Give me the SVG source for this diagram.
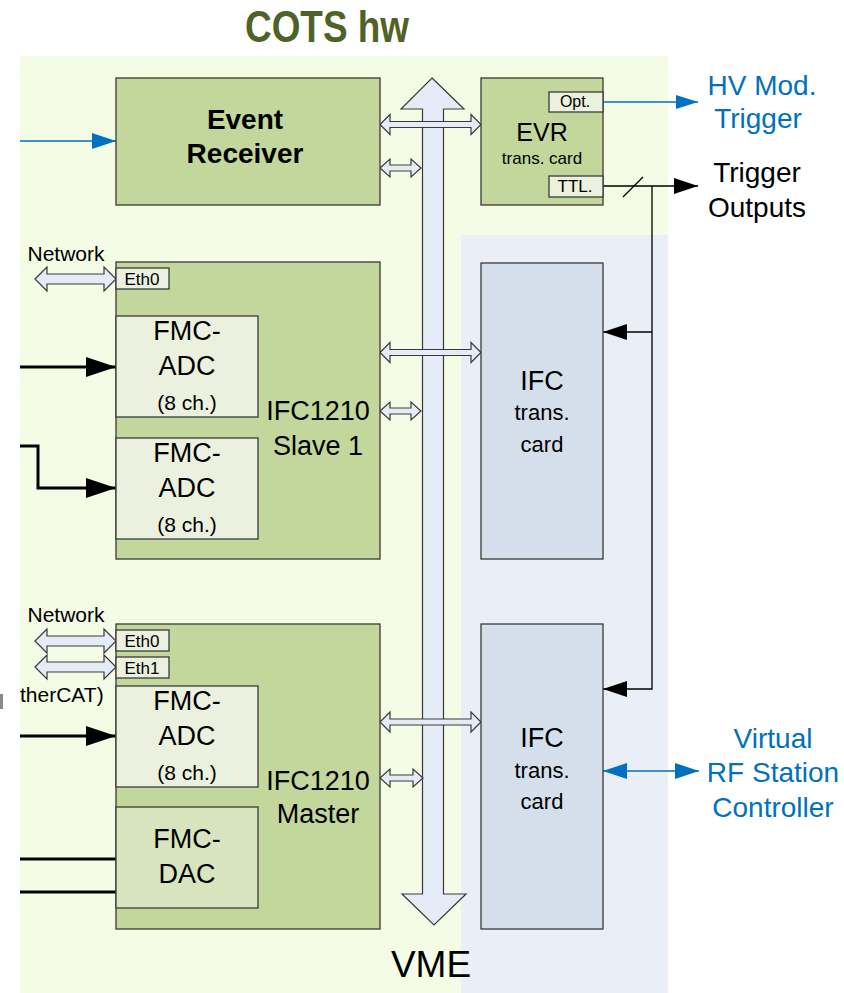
<svg xmlns="http://www.w3.org/2000/svg" width="844" height="993" viewBox="0 0 844 993">
<defs>
<style>
text{font-family:"Liberation Sans",Arial,sans-serif;fill:#000}
.box{fill:#c3d69b;stroke:#3a3a3a;stroke-width:1.3}
.adc{fill:#ebf1de;stroke:#3a3a3a;stroke-width:1.3}
.dac{fill:#d7e4bd;stroke:#3a3a3a;stroke-width:1.3}
.port{fill:#ebf1de;stroke:#3a3a3a;stroke-width:1.3}
.card{fill:#d5dfeb;stroke:#3a3a3a;stroke-width:1.3}
.bus{fill:#e6ecf7;stroke:#3a3a3a;stroke-width:1.2}
.big{font-size:27px}
.mid{font-size:22px}
.sm{font-size:17px}
.blue{fill:#0070c0}
.thin{stroke:#000;stroke-width:1.3;fill:none}
.thick{stroke:#000;stroke-width:3;fill:none}
.bl{stroke:#0070c0;stroke-width:1.3;fill:none}
</style>
<marker id="ab" viewBox="0 0 24 16" refX="24" refY="8" markerWidth="24" markerHeight="16" markerUnits="userSpaceOnUse" orient="auto-start-reverse"><path d="M0,0L24,8L0,16z" fill="#000"/></marker>
<marker id="abig" viewBox="0 0 30 20" refX="30" refY="10" markerWidth="30" markerHeight="20" markerUnits="userSpaceOnUse" orient="auto"><path d="M0,0L30,10L0,20z" fill="#000"/></marker>
<marker id="ablue" viewBox="0 0 22 14" refX="22" refY="7" markerWidth="22" markerHeight="14" markerUnits="userSpaceOnUse" orient="auto-start-reverse"><path d="M0,0L22,7L0,14z" fill="#0070c0"/></marker>
<marker id="abluebig" viewBox="0 0 24 16" refX="24" refY="8" markerWidth="24" markerHeight="16" markerUnits="userSpaceOnUse" orient="auto-start-reverse"><path d="M0,0L24,8L0,16z" fill="#0070c0"/></marker>
</defs>
<rect width="844" height="993" fill="#fff"/>
<rect x="20" y="56" width="648" height="937" fill="#f5fce6"/>
<rect x="461" y="235" width="207" height="758" fill="#e9eef7"/>
<rect x="0" y="694" width="3" height="15" fill="#8a8a8a"/>

<text x="327" y="42" font-size="44" font-weight="bold" style="fill:#4f6228" text-anchor="middle" textLength="164" lengthAdjust="spacingAndGlyphs">COTS hw</text>

<g id="vme-bus">
<path class="bus" d="M432,78L464,109L443.5,109L443.5,894L466,894L434,925L402,894L422.5,894L422.5,109L401,109Z"/>
<text x="431" y="977" font-size="37" text-anchor="middle">VME</text>
</g>

<g id="connectors">
<!-- bus double arrows -->
<path class="bus" d="M380,124.5l10,-10v7h81v-7l10,10l-10,10v-7h-81v7z"/>
<path class="bus" d="M380,168l10,-9v6h21v-6l10,9l-10,9v-6h-21v6z"/>
<path class="bus" d="M380,352.5l10,-10v7h81v-7l10,10l-10,10v-7h-81v7z"/>
<path class="bus" d="M380,411l10,-9v6h21v-6l10,9l-10,9v-6h-21v6z"/>
<path class="bus" d="M380,722l10,-10v7h81v-7l10,10l-10,10v-7h-81v7z"/>
<path class="bus" d="M380,778l10,-9v6h23v-6l10,9l-10,9v-6h-23v6z"/>
<!-- network double arrows -->
<path class="bus" d="M35,279l12,-12v7h57v-7l12,12l-12,12v-7h-57v7z"/>
<path class="bus" d="M35,641l12,-12v7h57v-7l12,12l-12,12v-7h-57v7z"/>
<path class="bus" d="M35,667l12,-12v7h57v-7l12,12l-12,12v-7h-57v7z"/>
<!-- event receiver input -->
<line class="bl" x1="20" y1="141" x2="116" y2="141" marker-end="url(#abluebig)"/>
<!-- ADC inputs -->
<line class="thick" x1="20" y1="367" x2="116" y2="367" marker-end="url(#abig)"/>
<path class="thick" d="M20,446H38V488H116" marker-end="url(#abig)"/>
<line class="thick" x1="20" y1="736" x2="116" y2="736" marker-end="url(#abig)"/>
<line class="thick" x1="20" y1="859" x2="117" y2="859"/>
<line class="thick" x1="20" y1="892" x2="117" y2="892"/>
<!-- EVR outputs -->
<line class="bl" x1="603" y1="102" x2="698" y2="102" marker-end="url(#ablue)"/>
<line class="thin" x1="603" y1="186" x2="698" y2="186" marker-end="url(#ab)"/>
<line class="thin" x1="623" y1="197" x2="643" y2="177"/>
<path class="thin" d="M652,186V689H603" marker-end="url(#ab)"/>
<line class="thin" x1="652" y1="332" x2="603" y2="332" marker-end="url(#ab)"/>
<!-- virtual RF station -->
<line class="bl" x1="603" y1="771" x2="699" y2="771" marker-start="url(#abluebig)" marker-end="url(#abluebig)"/>
</g>

<g id="event-receiver">
<rect class="box" x="116" y="78" width="264" height="127"/>
<text x="245" y="129" font-size="28" font-weight="bold" text-anchor="middle">Event</text>
<text x="245" y="163" font-size="28" font-weight="bold" text-anchor="middle">Receiver</text>
</g>

<g id="evr-card">
<rect class="box" x="481" y="78" width="122" height="127"/>
<rect class="port" x="549" y="92" width="54" height="20"/>
<text x="575" y="107" font-size="16" text-anchor="middle">Opt.</text>
<rect class="port" x="549" y="176" width="54" height="21"/>
<text x="575" y="192" class="sm" text-anchor="middle">TTL.</text>
<text x="542" y="141" font-size="25" text-anchor="middle">EVR</text>
<text x="542" y="164" class="sm" text-anchor="middle">trans. card</text>
</g>

<g id="hv-label">
<text x="762" y="95" font-size="28" class="blue" text-anchor="middle">HV Mod.</text>
<text x="758" y="128" font-size="28" class="blue" text-anchor="middle">Trigger</text>
</g>
<g id="trigger-outputs">
<text x="757" y="182" font-size="28" text-anchor="middle">Trigger</text>
<text x="757" y="217" font-size="28" text-anchor="middle">Outputs</text>
</g>

<g id="slave1">
<text x="66" y="261" font-size="21" text-anchor="middle">Network</text>
<rect class="box" x="116" y="262" width="264" height="297"/>
<rect class="port" x="116" y="268" width="53" height="21"/>
<text x="142" y="285" class="sm" text-anchor="middle">Eth0</text>
<text x="318" y="420" class="big" text-anchor="middle">IFC1210</text>
<text x="318" y="455" class="big" text-anchor="middle">Slave 1</text>
</g>
<g id="slave1-adc1">
<rect class="adc" x="116" y="316" width="142" height="101"/>
<text x="187" y="340" class="big" text-anchor="middle">FMC-</text>
<text x="187" y="375" class="big" text-anchor="middle">ADC</text>
<text x="187" y="410" font-size="21" text-anchor="middle">(8 ch.)</text>
</g>
<g id="slave1-adc2">
<rect class="adc" x="116" y="438" width="142" height="101"/>
<text x="187" y="462" class="big" text-anchor="middle">FMC-</text>
<text x="187" y="497" class="big" text-anchor="middle">ADC</text>
<text x="187" y="532" font-size="21" text-anchor="middle">(8 ch.)</text>
</g>

<g id="master">
<text x="66" y="622" font-size="21" text-anchor="middle">Network</text>
<text x="20" y="702" font-size="21">therCAT)</text>
<rect class="box" x="116" y="624" width="264" height="305"/>
<rect class="port" x="116" y="630" width="53" height="21"/>
<text x="142" y="647" class="sm" text-anchor="middle">Eth0</text>
<rect class="port" x="116" y="657" width="53" height="21"/>
<text x="142" y="674" class="sm" text-anchor="middle">Eth1</text>
<text x="318" y="790" class="big" text-anchor="middle">IFC1210</text>
<text x="318" y="823" class="big" text-anchor="middle">Master</text>
</g>
<g id="master-adc">
<rect class="adc" x="116" y="686" width="142" height="101"/>
<text x="187" y="710" class="big" text-anchor="middle">FMC-</text>
<text x="187" y="745" class="big" text-anchor="middle">ADC</text>
<text x="187" y="780" font-size="21" text-anchor="middle">(8 ch.)</text>
</g>
<g id="master-dac">
<rect class="dac" x="116" y="807" width="142" height="101"/>
<text x="187" y="848" class="big" text-anchor="middle">FMC-</text>
<text x="187" y="883" class="big" text-anchor="middle">DAC</text>
</g>

<g id="ifc-card1">
<rect class="card" x="481" y="263" width="122" height="296"/>
<text x="542" y="390" class="big" text-anchor="middle">IFC</text>
<text x="542" y="420" class="mid" text-anchor="middle">trans.</text>
<text x="542" y="452" class="mid" text-anchor="middle">card</text>
</g>
<g id="ifc-card2">
<rect class="card" x="481" y="624" width="122" height="305"/>
<text x="542" y="747" class="big" text-anchor="middle">IFC</text>
<text x="542" y="778" class="mid" text-anchor="middle">trans.</text>
<text x="542" y="809" class="mid" text-anchor="middle">card</text>
</g>

<g id="virtual-rf">
<text x="773" y="748" font-size="28" class="blue" text-anchor="middle">Virtual</text>
<text x="773" y="782" font-size="28" class="blue" text-anchor="middle">RF Station</text>
<text x="773" y="817" font-size="28" class="blue" text-anchor="middle">Controller</text>
</g>
</svg>
